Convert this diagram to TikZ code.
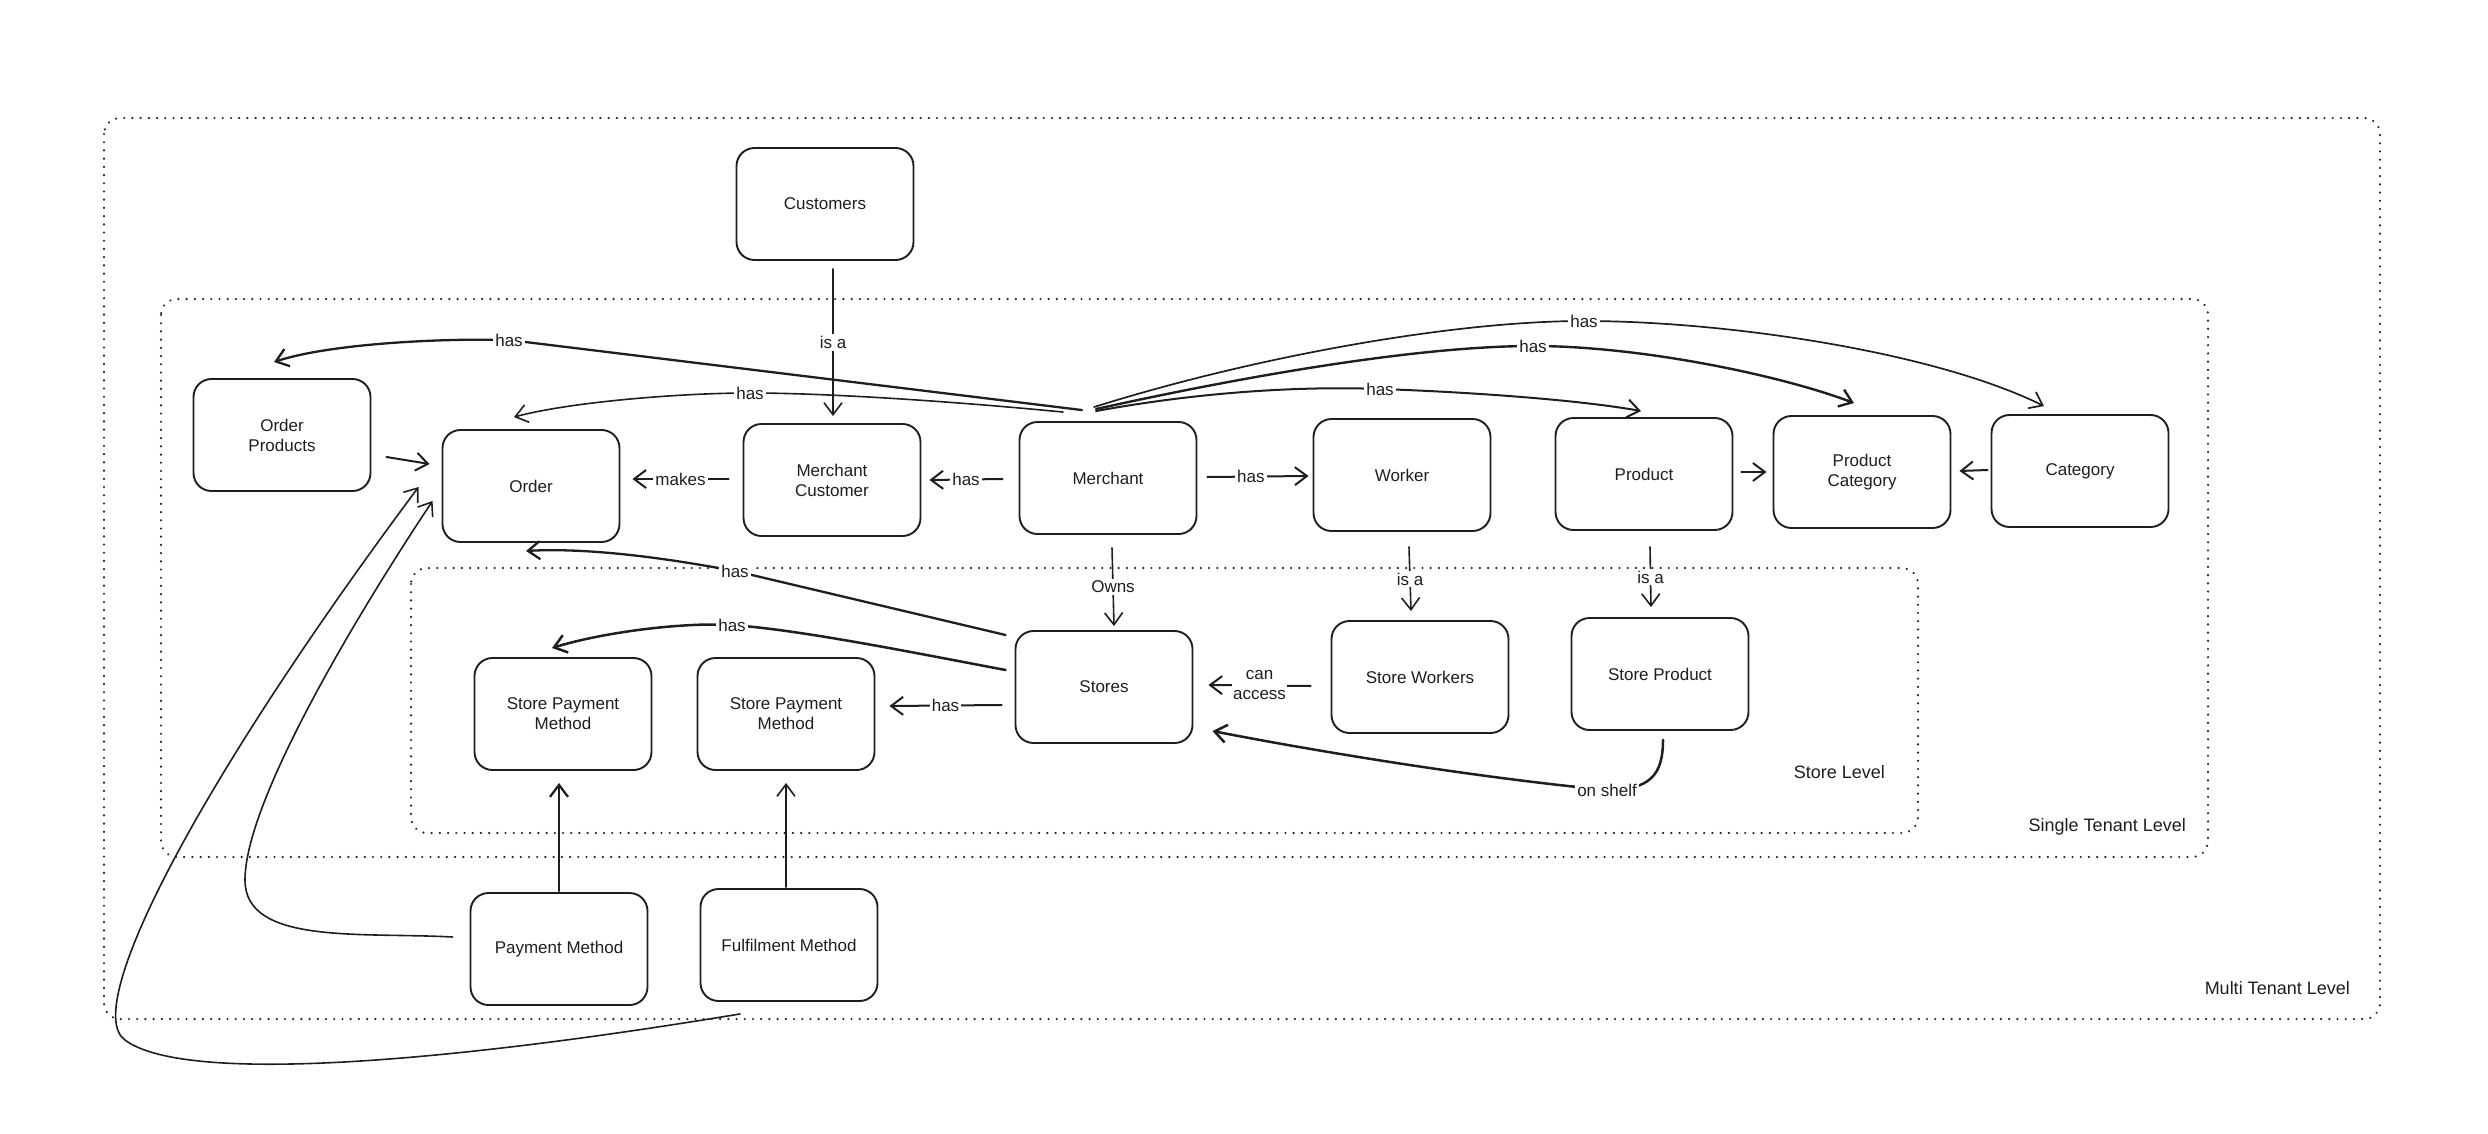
\documentclass[tikz,border=0pt]{standalone}
\usepackage{fontspec}
\setmainfont{Liberation Sans}
\usetikzlibrary{arrows.meta,calc}
\definecolor{ink}{HTML}{1E1E1E}
\begin{document}
\begin{tikzpicture}[x=1pt,y=-1pt,
  box/.style={draw=ink, line width=1.9pt, rounded corners=18pt, minimum width=177pt,
    minimum height=112pt, align=center, text=ink, font=\fontsize{17}{20}\selectfont},
  arr/.style={draw=ink, line width=2pt, line cap=round, line join=round,
    -{Straight Barb[length=12pt,width=18pt]}},
  thinarr/.style={arr, line width=1.6pt},
  lab/.style={fill=white, inner sep=2pt, text=ink, font=\fontsize{17}{20}\selectfont},
  zone/.style={draw=ink, line width=2.4pt, line cap=round, dash pattern=on 0.01pt off 8.2pt, rounded corners=16pt},
  zonelab/.style={anchor=east, inner sep=0pt, text=ink, font=\fontsize{18}{21}\selectfont}
]
\useasboundingbox (0,0) rectangle (2488,1134);

% zones
\draw[zone] (104,118) rectangle (2380,1019);
\draw[zone] (161,299) rectangle (2208,857);
\draw[zone] (411,568) rectangle (1918,833);
\node[zonelab] (lmulti) at (2350,988) {Multi Tenant Level};
\node[zonelab] (lsingle) at (2186,827) {Single Tenant Level};
\node[zonelab] (lstore) at (1885,772) {Store Level};

% nodes
\node[box] (cust) at (825,204) {Customers};
\node[box] (ordprod) at (282,435) {Order\\Products};
\node[box] (order) at (531,486) {Order};
\node[box] (mcust) at (832,480) {Merchant\\Customer};
\node[box] (merchant) at (1108,478) {Merchant};
\node[box] (worker) at (1402,475) {Worker};
\node[box] (product) at (1644,474) {Product};
\node[box] (prodcat) at (1862,472) {Product\\Category};
\node[box] (category) at (2080,471) {Category};
\node[box] (stores) at (1104,687) {Stores};
\node[box] (sworkers) at (1420,677) {Store Workers};
\node[box] (sproduct) at (1660,674) {Store Product};
\node[box] (spm1) at (563,714) {Store Payment\\Method};
\node[box] (spm2) at (786,714) {Store Payment\\Method};
\node[box] (paym) at (559,949) {Payment Method};
\node[box] (fulf) at (789,945) {Fulfilment Method};

% connectors
\draw[thinarr] ($(cust.south)+(8,8)$) -- node[lab]{is a} ($(mcust.north)+(1,-7)$);

\draw[arr, line width=2.3pt] ($(merchant.north)+(-26,-11)$) -- (509,340) node[lab]{has}
  .. controls (430,338) and (325,345) .. ($(ordprod.north)+(-8,-16)$);
\draw[arr, line width=1.6pt] ($(merchant.north)+(-45,-9)$) .. controls (960,402) and (830,393) .. (750,393) node[lab]{has}
  .. controls (680,393) and (570,402) .. ($(order.north)+(-17,-12)$);
\draw[arr] ($(merchant.north)+(-12,-10)$) .. controls (1200,392) and (1300,386) .. (1380,389) node[lab]{has}
  .. controls (1470,392) and (1580,400) .. ($(product.north)+(-3,-6)$);
\draw[arr, line width=2.4pt] ($(merchant.north)+(-12,-12)$) .. controls (1250,375) and (1420,346) .. (1533,346) node[lab]{has}
  .. controls (1640,346) and (1780,375) .. ($(prodcat.north)+(-8,-12)$);
\draw[arr, line width=1.7pt] ($(merchant.north)+(-14,-14)$) .. controls (1250,358) and (1450,321) .. (1584,321) node[lab]{has}
  .. controls (1720,321) and (1930,350) .. ($(category.north)+(-36,-8)$);

\draw[arr] ($(merchant.west)+(-16,1)$) -- node[lab]{has} ($(mcust.east)+(8,0)$);
\draw[arr] ($(mcust.west)+(-14,-1)$) -- node[lab]{makes} ($(order.east)+(12,-7)$);
\draw[arr] ($(merchant.east)+(10,-1)$) -- node[lab, pos=0.43]{has} ($(worker.west)+(-4,1)$);
\draw[arr] ($(product.east)+(8,-2)$) -- ($(prodcat.west)+(-6,0)$);
\draw[arr] ($(category.west)+(-3,-1)$) -- ($(prodcat.east)+(8,-1)$);
\draw[arr] ($(ordprod.east)+(15,22)$) -- ($(order.west)+(-12,-22)$);

\draw[thinarr] ($(merchant.south)+(4,13)$) -- node[lab]{Owns} ($(stores.north)+(10,-4)$);
\draw[thinarr] ($(worker.south)+(7,15)$) -- node[lab]{is a} ($(sworkers.north)+(-9,-9)$);
\draw[thinarr] ($(product.south)+(6,16)$) -- node[lab]{is a} ($(sproduct.north)+(-9,-10)$);

\draw[arr, line width=2.3pt] ($(stores.west)+(-9,-52)$) -- (735,571) node[lab]{has}
  .. controls (650,555) and (580,548) .. ($(order.south)+(-5,8)$);
\draw[arr, line width=2.5pt] ($(stores.west)+(-9,-17)$) .. controls (900,650) and (800,630) .. (732,625) node[lab]{has}
  .. controls (680,622) and (600,633) .. ($(spm1.north)+(-11,-9)$);
\draw[arr] ($(stores.west)+(-13,18)$) -- node[lab]{has} ($(spm2.east)+(14,-8)$);
\draw[arr] ($(sworkers.west)+(-20,9)$) -- node[lab, align=center, inner sep=1pt]{can\\access} ($(stores.east)+(15,-2)$);
\draw[arr, line width=2.5pt] ($(sproduct.south)+(3,9)$) .. controls (1663,775) and (1650,790) .. (1607,790) node[lab]{on shelf}
  .. controls (1480,778) and (1320,752) .. ($(stores.east)+(19,44)$);

\draw[arr, line width=2.3pt] ($(paym.north)+(0,-1)$) -- ($(spm1.south)+(-4,12)$);
\draw[thinarr] ($(fulf.north)+(-3,-1)$) -- ($(spm2.south)+(0,12)$);

\draw[thinarr] ($(paym.west)+(-17,-12)$) .. controls (360,932) and (245,945) .. (245,880)
  .. controls (245,800) and (360,610) .. ($(order.south west)+(-9,-42)$);
\draw[thinarr] ($(fulf.south)+(-49,12)$) .. controls (450,1062) and (185,1085) .. (125,1040)
  .. controls (80,1008) and (200,780) .. ($(order.west)+(-23,1)$);
\end{tikzpicture}
\end{document}
